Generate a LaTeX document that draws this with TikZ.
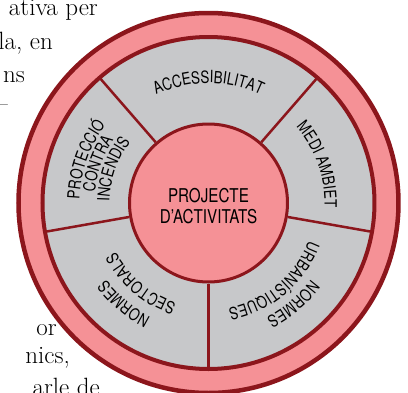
\documentclass[tikz,border=0pt]{standalone}
\usepackage{fontspec}
\usetikzlibrary{decorations.text}
\newfontfamily\diagfont{TeX Gyre Heros}[FakeStretch=0.8]
\newcommand\ringfont{\diagfont\fontsize{16.8}{16.8}\selectfont}
\definecolor{ringpink}{RGB}{245,145,150}
\definecolor{ringred}{RGB}{140,22,28}
\definecolor{ringgray}{RGB}{199,200,202}
\tikzset{
  ringtext/.style={decorate, decoration={text along path, text align=center, text={|\ringfont|#1}}},
}
\begin{document}
\begin{tikzpicture}[x=1pt,y=1pt,
    sectorline/.style={draw=ringred, line width=2.5pt},
    pagetext/.style={anchor=base east, inner sep=0pt, font=\fontsize{25}{30}\selectfont},
    centretext/.style={anchor=base, inner sep=0pt, font=\diagfont\fontsize{19}{21}\selectfont}]
  \useasboundingbox (-208.5,-189) rectangle (199.5,203);
  % text of the page round the figure
  \node[pagetext] (txtA) at (-110.5,188) {ativa per};
  \node[pagetext] (txtB) at (-155.5,154) {la, en};
  \node[pagetext] (txtC) at (-183.5,121) {ns};
  \node[pagetext] (txtD) at (-200.5,92) {--};
  \node[pagetext] (txtE) at (-151.5,-132) {or};
  \node[pagetext] (txtF) at (-138.5,-160) {nics,};
  \node[pagetext] (txtG) at (-108.5,-192) {arle de};
  % rings
  \draw[ringred, fill=ringpink, line width=4.5pt] (0,0) circle[radius=190];
  \draw[ringred, fill=ringgray, line width=4pt] (0,0) circle[radius=166];
  \node[circle, draw=ringred, fill=ringpink, line width=3pt, minimum size=158pt, inner sep=0pt] (proj) at (0,0) {};
  \foreach \a in {49,131,190,270,350}
    \draw[sectorline] (proj.\a) -- (\a:166);
  \node[centretext] (projA) at (0,1) {PROJECTE};
  \node[centretext] (projB) at (0,-20) {D’ACTIVITATS};
  % sector labels
  \path[ringtext=ACCESSIBILITAT] (135:120) arc[start angle=135, end angle=45, radius=120];
  \path[ringtext=MEDI AMBIET] (59.5:116) arc[start angle=59.5, end angle=-20.5, radius=116];
  \path[ringtext=PROTECCIÓ] (200.5:129) arc[start angle=200.5, end angle=120.5, radius=129];
  \path[ringtext=CONTRA] (200.5:114) arc[start angle=200.5, end angle=120.5, radius=114];
  \path[ringtext=INCENDIS] (200.5:99) arc[start angle=200.5, end angle=120.5, radius=99];
  \path[ringtext=NORMES] (270:128) arc[start angle=270, end angle=190, radius=128];
  \path[ringtext=SECTORALS] (270:105) arc[start angle=270, end angle=190, radius=105];
  \path[ringtext=NORMES] (350:128) arc[start angle=350, end angle=270, radius=128];
  \path[ringtext=URBANÍSTIQUES] (350:107) arc[start angle=350, end angle=270, radius=107];
\end{tikzpicture}
\end{document}
